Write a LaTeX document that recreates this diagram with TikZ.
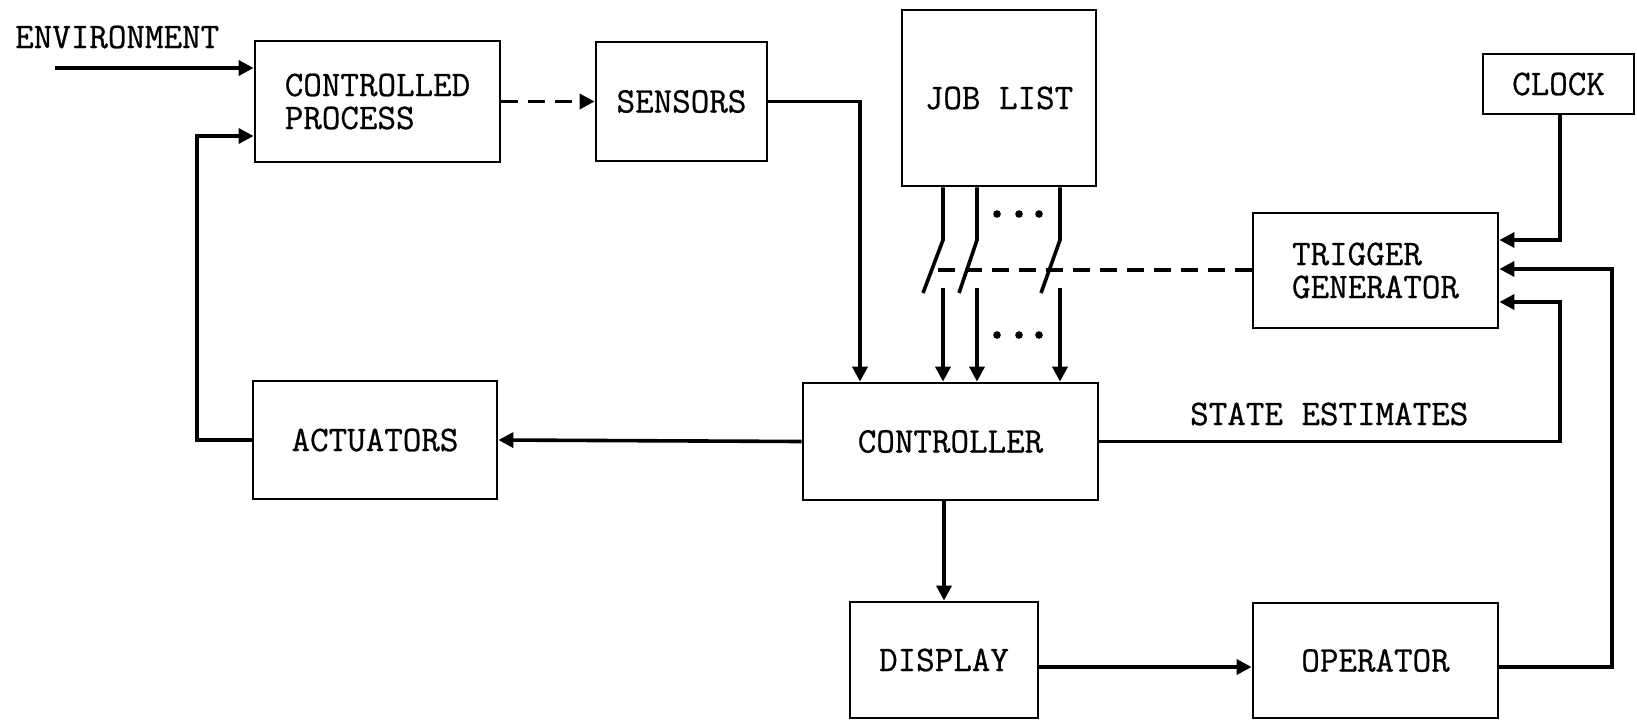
\documentclass[tikz,border=0pt]{standalone}
\usepackage{fontspec}
\newfontfamily\boxfont[FakeBold=0.7]{Latin Modern Mono}
\usetikzlibrary{arrows.meta,calc}
\begin{document}
\begin{tikzpicture}[x=1pt,y=-1pt,
  blk/.style={draw,line width=2.8pt,inner sep=0pt,align=left,font=\boxfont\fontsize{36}{33}\selectfont},
  conn/.style={line width=3.6pt,-{Triangle[length=15pt,width=15pt]}},
  plain/.style={line width=3.6pt},
  dsh/.style={line width=3.6pt,dash pattern=on 17pt off 10pt},
  lbl/.style={font=\boxfont\fontsize{36}{33}\selectfont,inner sep=0pt}]
\useasboundingbox (0,0) rectangle (1637,721);
% boxes
\node[blk,minimum width=245pt,minimum height=121pt] (cp) at (377.5,101.5) {CONTROLLED\\PROCESS};
\node[blk,minimum width=171pt,minimum height=119pt] (sen) at (681.5,101.5) {SENSORS};
\node[blk,minimum width=194pt,minimum height=176pt] (job) at (999,98) {JOB LIST};
\node[blk,minimum width=151pt,minimum height=60pt] (clk) at (1558.5,84) {CLOCK};
\node[blk,minimum width=245pt,minimum height=115pt] (trg) at (1375.5,270.5) {TRIGGER\\GENERATOR};
\node[blk,minimum width=244pt,minimum height=118pt] (act) at (375,440) {ACTUATORS};
\node[blk,minimum width=295pt,minimum height=117pt] (ctl) at (950.5,441.5) {CONTROLLER};
\node[blk,minimum width=188pt,minimum height=116pt] (dsp) at (944,660) {DISPLAY};
\node[blk,minimum width=245pt,minimum height=115pt] (opr) at (1375.5,660.5) {OPERATOR};
% labels
\node[lbl,anchor=base west] (env) at (15,48) {ENVIRONMENT};
\node[lbl,anchor=base west] (se) at (1190,425) {STATE ESTIMATES};
% helper coordinates
\coordinate (envs) at (55,68);
\coordinate (fbx) at (197,136);
\coordinate (senx) at (860,100);
\coordinate (sex) at (1560,302);
\coordinate (opx) at (1612,269);
\coordinate (ckx) at (1560,240);
\coordinate (dend) at (937,270);
\coordinate (dopy) at (0,667);
% connectors
\draw[conn] (envs) -- (envs -| cp.west);
\draw[conn,dash pattern=on 17pt off 10pt] (cp.east) -- (sen.west);
\draw[conn] (sen.east) -| (senx |- ctl.north);
\draw[conn] (ctl.west) -- (act.east);
\draw[conn] (act.west) -| (fbx) -- (fbx -| cp.west);
\draw[conn] (ctl.east) -| (sex) -- (sex -| trg.east);
\draw[conn] (dsp.north |- ctl.south) -- (dsp.north);
\draw[conn] (dsp.east |- dopy) -- (opr.west |- dopy);
\draw[conn] (opr.east |- dopy) -| (opx) -- (opx -| trg.east);
\draw[conn] (clk.south -| ckx) -- (ckx) -- (ckx -| trg.east);
\draw[dsh] (trg.west |- dend) -- (dend);
% switches
\foreach \xa/\xb in {943/923,977/959,1060/1041}{
  \coordinate (top\xa) at (\xa,240);
  \draw[plain] (\xa,0 |- job.south) -- (top\xa) -- (\xb,293);
  \draw[conn] (\xa,288) -- (\xa,0 |- ctl.north);
}
% dots
\foreach \xd in {997,1019,1039}{
  \fill (\xd,214) circle (3.8pt);
  \fill (\xd,335) circle (3.8pt);
}
\end{tikzpicture}
\end{document}
